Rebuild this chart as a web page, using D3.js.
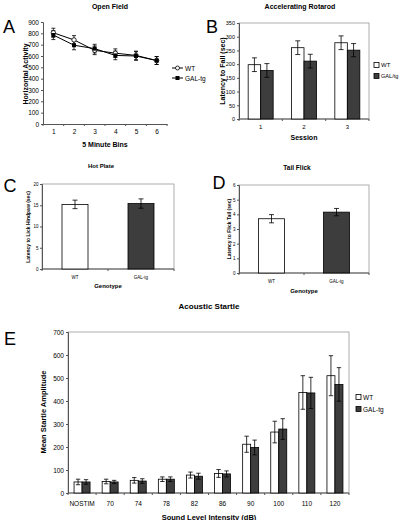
<!DOCTYPE html>
<html><head><meta charset="utf-8">
<script src="https://cdn.jsdelivr.net/npm/d3@7"></script>
<style>body{margin:0;background:#fff}svg{display:block;font-family:"Liberation Sans",Arial,sans-serif}</style>
</head><body>
<script>
// ---- data ----
const openBins = [1, 2, 3, 4, 5, 6];
const openWT = [805, 742, 650, 625, 605, 560];
const openWTErr = [40, 38, 38, 38, 38, 35];
const openGAL = [785, 695, 665, 605, 600, 560];
const openGALErr = [40, 40, 38, 38, 38, 35];
const openTicks = [0, 100, 200, 300, 400, 500, 600, 700, 800, 900];

const rotSessions = ["1", "2", "3"];
const rotWT = [198, 260, 278];
const rotWTErr = [25, 25, 25];
const rotGAL = [177, 211, 251];
const rotGALErr = [25, 25, 24];
const rotTicks = [0, 50, 100, 150, 200, 250, 300, 350];

const genotypes = ["WT", "GAL-tg"];
const genotypeFill = ["#fff", "#3d3d3d"];
const hotVals = [15.2, 15.4];
const hotErr = [1.0, 1.1];
const hotTicks = [0, 5, 10, 15, 20];

const tailVals = [3.7, 4.15];
const tailErr = [0.28, 0.25];
const tailTicks = [0, 1, 2, 3, 4, 5, 6];

const startleCats = ["NOSTIM", "70", "74", "78", "82", "86", "90", "100", "110", "120"];
const startleWT = [48, 50, 55, 60, 78, 85, 212, 265, 437, 510];
const startleWTErr = [12, 10, 12, 10, 13, 17, 35, 47, 73, 87];
const startleGAL = [48, 48, 52, 60, 73, 83, 198, 278, 435, 472];
const startleGALErr = [10, 7, 10, 10, 13, 13, 32, 45, 68, 73];
const startleTicks = [0, 100, 200, 300, 400, 500, 600, 700];

const GRAY = "#3d3d3d";
const svg = d3.select("body").append("svg").attr("width", 400).attr("height", 520);

function txt(x, y, s, size, opts = {}) {
  const t = svg.append("text").attr("x", x).attr("y", y).text(s)
    .attr("font-size", size).attr("text-anchor", opts.anchor || "middle")
    .attr("dominant-baseline", "central").attr("fill", "#000");
  if (opts.bold) t.attr("font-weight", "bold");
  if (opts.rotate) t.attr("transform", `rotate(-90,${x},${y})`);
  return t;
}

function errBar(g, x, y0, y1, cap, w) {
  g.append("line").attr("x1", x).attr("x2", x).attr("y1", y0).attr("y2", y1).attr("stroke", "#000").attr("stroke-width", w || 0.8);
  [y0, y1].forEach(yy => g.append("line").attr("x1", x - cap).attr("x2", x + cap).attr("y1", yy).attr("y2", yy).attr("stroke", "#000").attr("stroke-width", w || 0.8));
}

function yAxis(y, x0, ticks, size, pad) {
  const ax = svg.append("g").attr("transform", `translate(${x0},0)`)
    .call(d3.axisLeft(y).tickValues(ticks).tickFormat(d => String(d)).tickSize(2).tickPadding(pad == null ? 2 : pad));
  ax.select(".domain").attr("stroke", "#555");
  ax.selectAll(".tick line").attr("stroke", "#555");
  ax.selectAll("text").attr("font-size", size).attr("font-family", "Liberation Sans, Arial, sans-serif");
  return ax;
}

// ---- Panel A: Open Field ----
(function () {
  const L = 43, R = 167, T = 22, B = 124;
  const x = d3.scalePoint().domain(openBins).range([L, R]).padding(0.5);
  const y = d3.scaleLinear().domain([0, 900]).range([B, T]);
  yAxis(y, L, openTicks, 6.5);
  const xa = svg.append("g").attr("transform", `translate(0,${B})`)
    .call(d3.axisBottom(x).tickSize(0).tickPadding(5));
  xa.select(".domain").attr("stroke", "#555");
  xa.selectAll("text").attr("font-size", 6.5);
  const step = x.step();
  d3.range(openBins.length + 1).forEach(i => {
    const xx = L + i * step;
    svg.append("line").attr("x1", xx).attr("x2", xx).attr("y1", B).attr("y2", B + 2).attr("stroke", "#555");
  });
  const g = svg.append("g");
  [[openWT, openWTErr], [openGAL, openGALErr]].forEach(([v, e]) => {
    g.append("path").datum(v).attr("fill", "none").attr("stroke", "#000").attr("stroke-width", 1)
      .attr("d", d3.line().x((d, i) => x(openBins[i])).y(d => y(d)));
    v.forEach((d, i) => errBar(g, x(openBins[i]), y(d - e[i]), y(d + e[i]), 2, 0.8));
  });
  openWT.forEach((d, i) => g.append("circle").attr("cx", x(openBins[i])).attr("cy", y(d)).attr("r", 2.2).attr("fill", "#fff").attr("stroke", "#000").attr("stroke-width", 0.8));
  openGAL.forEach((d, i) => g.append("rect").attr("x", x(openBins[i]) - 2).attr("y", y(d) - 2).attr("width", 4).attr("height", 4).attr("fill", "#000"));
  // legend
  svg.append("line").attr("x1", 172).attr("x2", 183).attr("y1", 68).attr("y2", 68).attr("stroke", "#000");
  svg.append("circle").attr("cx", 177.5).attr("cy", 68).attr("r", 2).attr("fill", "#fff").attr("stroke", "#000").attr("stroke-width", 0.8);
  txt(185, 68, "WT", 6.5, { anchor: "start" });
  svg.append("line").attr("x1", 172).attr("x2", 183).attr("y1", 78).attr("y2", 78).attr("stroke", "#000");
  svg.append("rect").attr("x", 175.5).attr("y", 76).attr("width", 4).attr("height", 4).attr("fill", "#000");
  txt(185, 78, "GAL-tg", 6.5, { anchor: "start" });
  txt(110, 6, "Open Field", 7, { bold: true });
  txt(105, 144, "5 Minute Bins", 7, { bold: true });
  txt(25, 74, "Horizontal Activity", 7, { bold: true, rotate: true });
  txt(9, 27, "A", 18);
})();

// ---- generic grouped bar panel ----
function barPanel(cfg) {
  const { L, R, T, B } = cfg;
  svg.append("rect").attr("x", L).attr("y", T).attr("width", R - L).attr("height", B - T)
    .attr("fill", "none").attr("stroke", "#999").attr("stroke-width", 0.8);
  const x = d3.scaleBand().domain(cfg.cats).range([L, R]);
  const y = d3.scaleLinear().domain([0, cfg.max]).range([B, T]);
  yAxis(y, L, cfg.ticks, cfg.tickSize, cfg.tickPad);
  svg.append("line").attr("x1", L).attr("x2", R).attr("y1", B).attr("y2", B).attr("stroke", "#555");
  cfg.cats.forEach((c) => {
    svg.append("line").attr("x1", x(c)).attr("x2", x(c)).attr("y1", B).attr("y2", B + 2).attr("stroke", "#555");
    txt(x(c) + x.bandwidth() / 2, B + cfg.labelOff, c, cfg.xTickSize);
  });
  svg.append("line").attr("x1", R).attr("x2", R).attr("y1", B).attr("y2", B + 2).attr("stroke", "#555");
  const g = svg.append("g");
  const bw = cfg.barW;
  cfg.series.forEach((s, si) => {
    const n = cfg.series.length;
    s.vals.forEach((v, i) => {
      const cx = x(cfg.cats[i]) + x.bandwidth() / 2 + (si - (n - 1) / 2) * bw;
      const fill = Array.isArray(s.fill) ? s.fill[i] : s.fill;
      g.append("rect").attr("x", cx - bw / 2).attr("y", y(v)).attr("width", bw).attr("height", B - y(v))
        .attr("fill", fill).attr("stroke", "#000").attr("stroke-width", 0.8);
      errBar(g, cx, y(v - s.err[i]), y(v + s.err[i]), cfg.cap, 0.8);
    });
  });
  return { x, y };
}

// ---- Panel B: Accelerating Rotarod ----
barPanel({ L: 239, R: 369, T: 23, B: 119, cats: rotSessions, max: 350, ticks: rotTicks, tickSize: 5.5, xTickSize: 6,
  labelOff: 8, barW: 12.5, cap: 2.5,
  series: [{ vals: rotWT, err: rotWTErr, fill: "#fff" }, { vals: rotGAL, err: rotGALErr, fill: GRAY }] });
svg.append("rect").attr("x", 374).attr("y", 62.5).attr("width", 5).attr("height", 5).attr("fill", "#fff").attr("stroke", "#000").attr("stroke-width", 0.8);
txt(381, 65, "WT", 6, { anchor: "start" });
svg.append("rect").attr("x", 374).attr("y", 73.5).attr("width", 5).attr("height", 5).attr("fill", GRAY).attr("stroke", "#000").attr("stroke-width", 0.8);
txt(381, 76, "GAL/tg", 5.6, { anchor: "start" });
txt(300, 6, "Accelerating Rotarod", 7, { bold: true });
txt(304, 137, "Session", 7, { bold: true });
txt(222, 71, "Latency to Fall (sec)", 7, { bold: true, rotate: true });
txt(212, 27, "B", 18);

// ---- Panel C: Hot Plate ----
barPanel({ L: 42, R: 174, T: 184, B: 269, cats: genotypes, max: 20, ticks: hotTicks, tickSize: 4.5, xTickSize: 4.5,
  labelOff: 8, barW: 26, cap: 2.5, tickPad: 1.5,
  series: [{ vals: hotVals, err: hotErr, fill: genotypeFill }] });
txt(101, 166, "Hot Plate", 6, { bold: true });
txt(108, 286, "Genotype", 6, { bold: true });
txt(28, 227, "Latency to Lick Hindpaw (sec)", 5, { bold: true, rotate: true });
txt(10, 186, "C", 18);

// ---- Panel D: Tail Flick ----
barPanel({ L: 239, R: 369, T: 185, B: 273, cats: genotypes, max: 6, ticks: tailTicks, tickSize: 4.5, xTickSize: 4.5,
  labelOff: 8, barW: 26, cap: 2.5, tickPad: 1.5,
  series: [{ vals: tailVals, err: tailErr, fill: genotypeFill }] });
txt(297, 167, "Tail Flick", 6.5, { bold: true });
txt(304, 291, "Genotype", 6, { bold: true });
txt(229, 229, "Latency to Flick Tail (sec)", 5, { bold: true, rotate: true });
txt(219, 183, "D", 18);

// ---- Panel E: Acoustic Startle ----
barPanel({ L: 68, R: 349, T: 332, B: 493, cats: startleCats, max: 700, ticks: startleTicks, tickSize: 6.5, xTickSize: 6.5,
  labelOff: 10, barW: 8, cap: 2.2,
  series: [{ vals: startleWT, err: startleWTErr, fill: "#fff" }, { vals: startleGAL, err: startleGALErr, fill: GRAY }] });
svg.append("rect").attr("x", 356).attr("y", 394.5).attr("width", 5).attr("height", 5).attr("fill", "#fff").attr("stroke", "#000").attr("stroke-width", 0.8);
txt(363, 397, "WT", 6.5, { anchor: "start" });
svg.append("rect").attr("x", 356).attr("y", 406.5).attr("width", 5).attr("height", 5).attr("fill", GRAY).attr("stroke", "#000").attr("stroke-width", 0.8);
txt(363, 409, "GAL-tg", 6.5, { anchor: "start" });
txt(209, 306, "Acoustic Startle", 8, { bold: true });
txt(209, 517, "Sound Level Intensity (dB)", 7.5, { bold: true });
txt(43, 412, "Mean Startle Amplitude", 7.5, { bold: true, rotate: true });
txt(10, 339, "E", 18);
</script>
</body></html>
